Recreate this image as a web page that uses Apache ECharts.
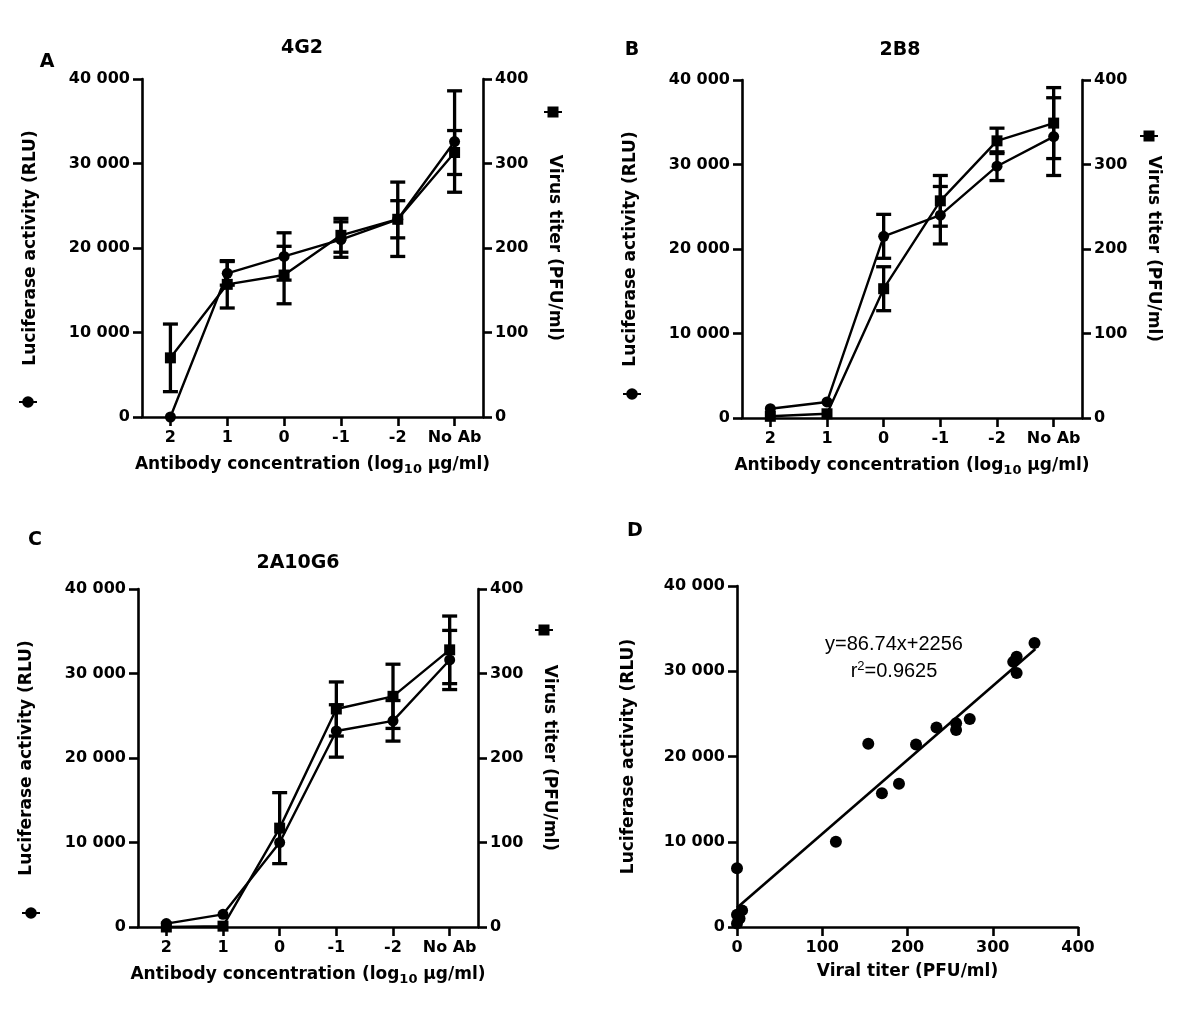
<!DOCTYPE html>
<html><head><meta charset="utf-8">
<script src="https://cdn.jsdelivr.net/npm/echarts@6/dist/echarts.min.js"></script>
<style>html,body{margin:0;padding:0;background:#fff}#c{width:1200px;height:1029px}</style>
</head><body><div id="c"></div>
<script>
// ---------------- data ----------------
const categories = ['2', '1', '0', '-1', '-2', 'No Ab'];
const leftTicks = [0, 10000, 20000, 30000, 40000];
const rightTicks = [0, 100, 200, 300, 400];

// Panel A – 4G2
const lucA = [0, 17000, 19000, 21000, 23400, 32600];
const lucErrA = [0, 1400, 2800, 2100, 2200, 6000];
const titA = [70, 157, 168, 215, 234, 313];
const titErrA = [40, 28, 34, 20, 44, 26];
// Panel B – 2B8
const lucB = [1100, 1900, 21500, 24000, 29800, 33300];
const lucErrB = [0, 0, 2600, 3400, 1700, 4600];
const titB = [2, 5, 153, 257, 328, 349];
const titErrB = [0, 0, 26, 30, 15, 42];
// Panel C – 2A10G6
const lucC = [400, 1500, 10000, 23200, 24400, 31600];
const lucErrC = [0, 0, 0, 3100, 2400, 3500];
const titC = [0, 1, 117, 258, 273, 328];
const titErrC = [0, 0, 42, 32, 38, 40];
// Panel D – correlation
const titerD = [0, 0, 3, 6, 0, 116, 154, 170, 190, 210, 234, 257, 257, 273, 324, 328, 328, 349];
const lucD = [6900, 1450, 1000, 1950, 400, 10000, 21500, 15700, 16800, 21400, 23400, 23900, 23100, 24400, 31100, 31700, 29800, 33300];
const fitLine = [[0, 2256], [350, 32615]];

const panelTitles = ['4G2', '2B8', '2A10G6'];
const panelLetters = ['A', 'B', 'C', 'D'];
const equationText = 'y=86.74x+2256\nr{sup|2}=0.9625';

// ---------------- style / layout ----------------
const FONT = 'DejaVu Sans';
const AXW = 2.6;
const grids = [
  { left: 142, top: 79, width: 341, height: 338 },
  { left: 742, top: 80, width: 340, height: 338 },
  { left: 138, top: 589, width: 340, height: 338 },
  { left: 737, top: 586, width: 341, height: 341 }
];
const titlePos = [[302, 48], [900, 50], [298, 563]];
const letterPos = [[47, 62], [632, 50], [35, 540], [635, 531]];
const circlePos = [[28, 402], [632, 394], [31, 913]];
const squarePos = [[553, 112], [1149, 136], [544, 630]];

const CIRCLE_ICON = 'path://M0,5.1H18V6.9H0Z M3.2,6A5.8,5.8 0 1 1 14.8,6A5.8,5.8 0 1 1 3.2,6Z';
const SQUARE_ICON = 'path://M0,5.1H18V6.9H0Z M3.5,0.5H14.5V11.5H3.5Z';

const tickFmt = v => v === 0 ? '0' : (v / 1000) + ' 000';
const labelStyle = { fontFamily: FONT, fontWeight: 'bold', fontSize: 16, color: '#000' };
const nameStyle = { fontFamily: FONT, fontWeight: 'bold', fontSize: 17, color: '#000' };
const axisLine = { show: true, onZero: false, lineStyle: { color: '#000', width: AXW } };
const axisTick = { show: true, length: 9, lineStyle: { color: '#000', width: AXW } };

function leftAxis(g) {
  return {
    type: 'value', gridIndex: g, position: 'left', min: leftTicks[0], max: leftTicks[leftTicks.length - 1],
    interval: leftTicks[1] - leftTicks[0],
    name: 'Luciferase activity (RLU)', nameLocation: 'middle', nameRotate: 90, nameGap: 103,
    nameTextStyle: nameStyle,
    axisLine, axisTick, splitLine: { show: false },
    axisLabel: Object.assign({ margin: 12, formatter: tickFmt }, labelStyle)
  };
}
function rightAxis(g) {
  return {
    type: 'value', gridIndex: g, position: 'right', min: rightTicks[0], max: rightTicks[rightTicks.length - 1],
    interval: rightTicks[1] - rightTicks[0],
    name: 'Virus titer (PFU/ml)', nameLocation: 'middle', nameRotate: -90, nameGap: 63,
    nameTextStyle: nameStyle,
    axisLine, axisTick, splitLine: { show: false },
    axisLabel: Object.assign({ margin: 12 }, labelStyle)
  };
}
function catAxis(g) {
  return {
    type: 'category', gridIndex: g, data: categories, boundaryGap: true,
    name: 'Antibody concentration (log{sub|10} μg/ml)', nameLocation: 'middle', nameGap: 37,
    nameTextStyle: Object.assign({ lineHeight: 22, rich: {
      sub: { fontFamily: FONT, fontWeight: 'bold', fontSize: 13, lineHeight: 13, verticalAlign: 'bottom', color: '#000' }
    } }, nameStyle),
    axisLine, axisTick: Object.assign({ alignWithLabel: true }, axisTick), splitLine: { show: false },
    axisLabel: Object.assign({ margin: 13, interval: 0 }, labelStyle)
  };
}

function errRender(params, api) {
  const x = api.value(0), lo = api.value(1), hi = api.value(2);
  const a = api.coord([x, lo]), b = api.coord([x, hi]);
  const hw = 7.5;
  const style = { stroke: '#000', lineWidth: 3.3 };
  return {
    type: 'group', children: [
      { type: 'line', shape: { x1: a[0], y1: a[1], x2: b[0], y2: b[1] }, style },
      { type: 'line', shape: { x1: a[0] - hw, y1: a[1], x2: a[0] + hw, y2: a[1] }, style },
      { type: 'line', shape: { x1: b[0] - hw, y1: b[1], x2: b[0] + hw, y2: b[1] }, style }
    ]
  };
}
function errData(vals, errs) {
  const out = [];
  vals.forEach((v, i) => { if (errs[i] > 0) out.push([i, v - errs[i], v + errs[i]]); });
  return out;
}

const panels = [
  [lucA, lucErrA, titA, titErrA],
  [lucB, lucErrB, titB, titErrB],
  [lucC, lucErrC, titC, titErrC]
];

const xAxis = [], yAxis = [], series = [], legend = [], title = [];
panels.forEach((p, i) => {
  xAxis.push(catAxis(i));
  yAxis.push(leftAxis(i));
  yAxis.push(rightAxis(i));
  const lname = 'Luciferase ' + panelLetters[i], tname = 'Titer ' + panelLetters[i];
  series.push({ type: 'custom', xAxisIndex: i, yAxisIndex: 2 * i, renderItem: errRender,
    data: errData(p[0], p[1]), encode: { x: 0, y: [1, 2] }, z: 3, silent: true });
  series.push({ type: 'custom', xAxisIndex: i, yAxisIndex: 2 * i + 1, renderItem: errRender,
    data: errData(p[2], p[3]), encode: { x: 0, y: [1, 2] }, z: 3, silent: true });
  series.push({ type: 'line', name: lname, xAxisIndex: i, yAxisIndex: 2 * i, data: p[0],
    symbol: 'circle', symbolSize: 11, showAllSymbol: true, z: 4,
    lineStyle: { color: '#000', width: 2.4 }, itemStyle: { color: '#000', borderWidth: 0 } });
  series.push({ type: 'line', name: tname, xAxisIndex: i, yAxisIndex: 2 * i + 1, data: p[2],
    symbol: 'rect', symbolSize: 11, showAllSymbol: true, z: 4,
    lineStyle: { color: '#000', width: 2.4 }, itemStyle: { color: '#000', borderWidth: 0 } });
  legend.push({ data: [{ name: lname, icon: CIRCLE_ICON }], left: circlePos[i][0] - 9, top: circlePos[i][1] - 6,
    padding: 0, itemWidth: 18, itemHeight: 12, itemGap: 0, selectedMode: false, formatter: () => '',
    itemStyle: { color: '#000', borderWidth: 0 } });
  legend.push({ data: [{ name: tname, icon: SQUARE_ICON }], left: squarePos[i][0] - 9, top: squarePos[i][1] - 6,
    padding: 0, itemWidth: 18, itemHeight: 12, itemGap: 0, selectedMode: false, formatter: () => '',
    itemStyle: { color: '#000', borderWidth: 0 } });
  title.push({ text: panelTitles[i], left: titlePos[i][0], top: titlePos[i][1] - 10, textAlign: 'center', padding: 0,
    textStyle: { fontFamily: FONT, fontWeight: 'bold', fontSize: 19, lineHeight: 20, color: '#000' } });
});

// panel D axes
xAxis.push({
  type: 'value', gridIndex: 3, min: 0, max: 400, interval: 100,
  name: 'Viral titer (PFU/ml)', nameLocation: 'middle', nameGap: 36, nameTextStyle: nameStyle,
  axisLine, axisTick, splitLine: { show: false },
  axisLabel: Object.assign({ margin: 13 }, labelStyle)
});
yAxis.push(Object.assign(leftAxis(3), { nameGap: 100 }));
series.push({ type: 'line', xAxisIndex: 3, yAxisIndex: 6, data: fitLine, symbol: 'none', z: 3,
  lineStyle: { color: '#000', width: 2.6 } });
series.push({ type: 'scatter', xAxisIndex: 3, yAxisIndex: 6, data: titerD.map((t, i) => [t, lucD[i]]),
  symbol: 'circle', symbolSize: 12, z: 4, itemStyle: { color: '#000', opacity: 1 } });

panelLetters.forEach((l, i) => {
  title.push({ text: l, left: letterPos[i][0], top: letterPos[i][1] - 10, textAlign: 'center', padding: 0,
    textStyle: { fontFamily: FONT, fontWeight: 'bold', fontSize: 19, lineHeight: 20, color: '#000' } });
});
title.push({ text: equationText, left: 894, top: 631, textAlign: 'center', padding: 0,
  textStyle: { fontFamily: 'Liberation Sans', fontWeight: 'normal', fontSize: 20, lineHeight: 27, color: '#000',
    rich: { sup: { fontFamily: 'Liberation Sans', fontSize: 13, lineHeight: 13, verticalAlign: 'top', color: '#000', padding: [2, 0, 0, 0] } } } });

const chart = echarts.init(document.getElementById('c'), null, { renderer: 'canvas' });
chart.setOption({
  backgroundColor: '#fff',
  animation: false,
  grid: grids.map(g => Object.assign({ containLabel: false, outerBoundsMode: 'none' }, g)),
  title, legend, xAxis, yAxis, series
});
</script></body></html>
